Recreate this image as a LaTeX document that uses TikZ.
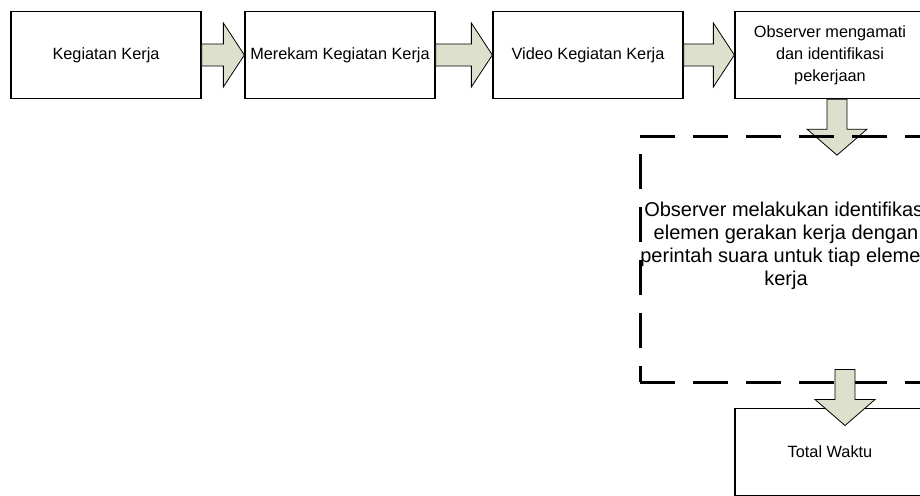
\documentclass[tikz,border=0pt]{standalone}
\usepackage{fontspec}
\setmainfont{Liberation Sans}
\usetikzlibrary{calc}

\definecolor{arrowfill}{RGB}{221,224,204}

\tikzset{
  box/.style={draw,line width=1.3pt,minimum width=190pt,minimum height=87pt,
    align=center,inner sep=2pt,font=\fontsize{16.3}{22}\selectfont},
  dashbox/.style={draw,line width=3pt,dash pattern=on 35pt off 18pt,
    minimum width=292pt,minimum height=246pt},
  bigtext/.style={align=center,inner sep=0pt,font=\fontsize{20}{23}\selectfont},
  blockarrow/.style={draw,line width=0.8pt,fill=arrowfill,line join=miter},
}

% block arrow from the east side of #1 to the west side of #2
\newcommand\blockright[2]{%
  \draw[blockarrow] ($(#1.east)+(0,-11)$) -- ($(#2.west)+(-21,-11)$) -- ++(0,-21)
    -- (#2.west) -- ++(-21,32) -- ++(0,-21) -- ($(#1.east)+(0,11)$) -- cycle;}
% block arrow pointing down, starting at #1
\newcommand\blockdown[1]{%
  \draw[blockarrow] (#1) ++(-10,0) -- ++(0,30) -- ++(-20,0) -- ++(30,26)
    -- ++(30,-26) -- ++(-20,0) -- ++(0,-30) -- cycle;}

\begin{document}
\begin{tikzpicture}[x=1pt,y=-1pt]

      \clip (0,0) rectangle (920,495);

      \begin{scope}[every node/.style={box}]
        \node (1) at (106,55)  {Kegiatan Kerja};
        \node (2) at (340,55)  {Merekam Kegiatan Kerja};
        \node (3) at (588,55)  {Video Kegiatan Kerja};
        \node (4) at (830,55)  {Observer mengamati\\dan identifikasi\\pekerjaan};
        \node (6) at (830,452) {Total Waktu};
      \end{scope}

      \blockright{1}{2}
      \blockright{2}{3}
      \blockright{3}{4}
      \coordinate (a) at ($(4.south)+(7,0)$);
      \blockdown{a}

      \node[dashbox] (5) at (786,259) {};
      \node[bigtext] (5t) at (786,246)
        {Observer melakukan identifikasi\\elemen gerakan kerja dengan\\perintah suara untuk tiap elemen\\kerja};

      \coordinate (b) at ($(5.south)+(59,-14)$);
      \blockdown{b}

    \end{tikzpicture}
\end{document}
